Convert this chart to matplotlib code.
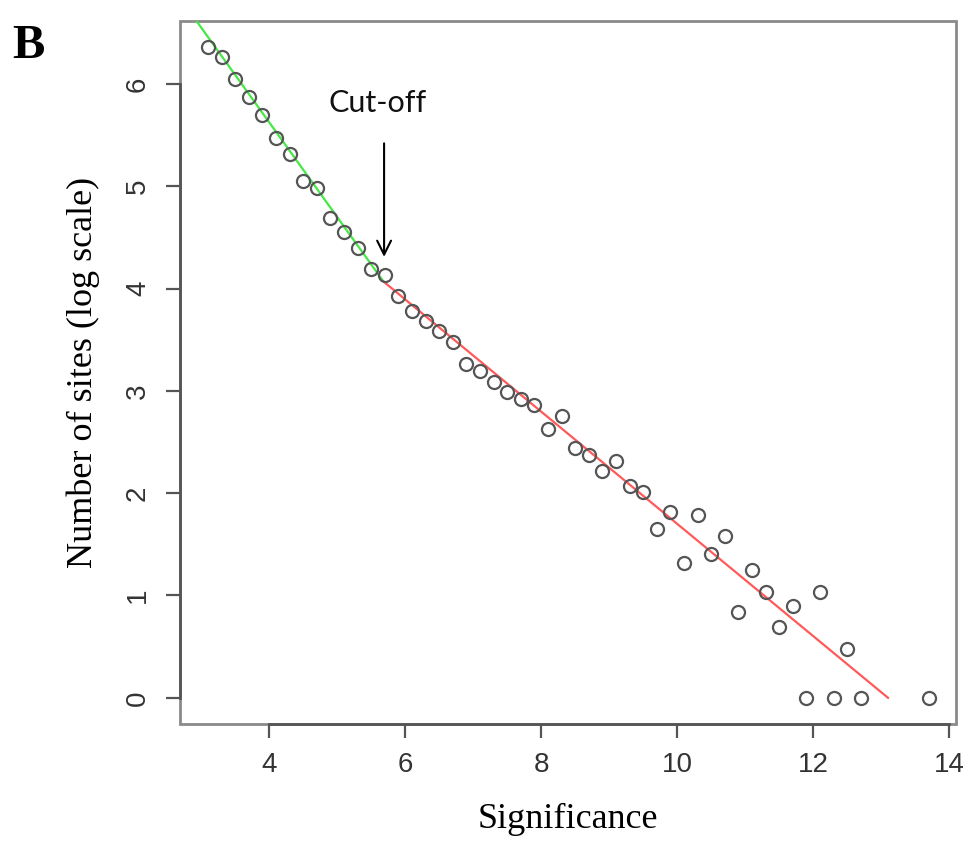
import matplotlib

matplotlib.use("Agg")

import matplotlib.pyplot as plt
import numpy as np
from matplotlib.patches import Rectangle

# observed points: significance vs log(number of sites)
significance = [
    3.1, 3.3, 3.5, 3.7, 3.9, 4.1, 4.3, 4.5, 4.7, 4.9, 5.1, 5.3, 5.5, 5.7,
    5.9, 6.1, 6.3, 6.5, 6.7, 6.9, 7.1, 7.3, 7.5, 7.7, 7.9, 8.1, 8.3, 8.5,
    8.7, 8.9, 9.1, 9.3, 9.5, 9.7, 9.9, 10.1, 10.3, 10.5, 10.7, 10.9, 11.1,
    11.3, 11.5, 11.7, 11.9, 12.1, 12.3, 12.5, 12.7, 13.7,
]
log_sites = [
    6.36, 6.26, 6.05, 5.87, 5.70, 5.47, 5.32, 5.05, 4.98, 4.69, 4.55, 4.40, 4.19, 4.13,
    3.93, 3.78, 3.68, 3.59, 3.48, 3.26, 3.19, 3.09, 2.99, 2.92, 2.86, 2.63, 2.75, 2.44,
    2.37, 2.22, 2.31, 2.07, 2.01, 1.65, 1.82, 1.32, 1.79, 1.41, 1.58, 0.84, 1.25,
    1.03, 0.69, 0.90, 0.00, 1.03, 0.00, 0.48, 0.00, 0.00,
]

# fitted lines either side of the cut-off
green_fit_x = [2.70, 5.68]
green_fit_y = [6.83, 4.07]
red_fit_x = [5.68, 13.10]
red_fit_y = [4.07, 0.00]

cutoff_x = 5.69
x_ticks = [4, 6, 8, 10, 12, 14]
y_ticks = [0, 1, 2, 3, 4, 5, 6]

fig = plt.figure(figsize=(9.63, 8.43), dpi=100)
ax = fig.add_axes([0.187, 0.1412, 0.8057, 0.8339])

ax.plot(green_fit_x, green_fit_y, color="#45e845", linewidth=1.6, zorder=2)
ax.plot(red_fit_x, red_fit_y, color="#ff5a5a", linewidth=1.6, zorder=2)
ax.plot(
    significance,
    log_sites,
    linestyle="none",
    marker="o",
    markersize=9.4,
    markerfacecolor="none",
    markeredgecolor="#555555",
    markeredgewidth=1.6,
    zorder=3,
)

ax.annotate(
    "",
    xy=(cutoff_x, 4.31),
    xytext=(cutoff_x, 5.42),
    arrowprops=dict(arrowstyle="->", color="black", lw=1.5, mutation_scale=25,
                    shrinkA=0, shrinkB=0),
)
ax.text(5.60, 5.81, "Cut-off", fontsize=22, family="Lato", ha="center",
        va="center", color="#111111")

ax.set_xlim(2.69, 14.10)
ax.set_ylim(-0.256, 6.616)
ax.set_xticks(x_ticks)
ax.set_yticks(y_ticks)
ax.set_xticklabels([str(t) for t in x_ticks], family="Liberation Sans",
                   fontsize=20, color="#333333")
ax.set_yticklabels([str(t) for t in y_ticks], family="Liberation Sans",
                   fontsize=20, color="#333333", rotation=90, va="center")
ax.tick_params(axis="both", direction="out", length=10, width=1.6,
               color="#555555")
ax.tick_params(axis="x", pad=10)
ax.tick_params(axis="y", pad=11)

# R-style box plus darker axis lines between the outer ticks
for side in ("top", "right"):
    ax.spines[side].set_visible(False)
ax.spines["bottom"].set_bounds(4, 14)
ax.spines["left"].set_bounds(0, 6)
for side in ("bottom", "left"):
    ax.spines[side].set_color("#555555")
    ax.spines[side].set_linewidth(2.0)
ax.add_patch(Rectangle((0, 0), 1, 1, transform=ax.transAxes, fill=False,
                       edgecolor="#8a8a8a", linewidth=2.0, clip_on=False,
                       zorder=1))

ax.set_xlabel("Significance", family="Liberation Serif", fontsize=26,
              labelpad=18)
ax.set_ylabel("Number of sites (log scale)", family="Liberation Serif",
              fontsize=26, labelpad=18)

fig.text(0.013, 0.972, "B", family="Liberation Serif", fontweight="bold",
         fontsize=35, ha="left", va="top")

fig.savefig("out.png", dpi=100)
